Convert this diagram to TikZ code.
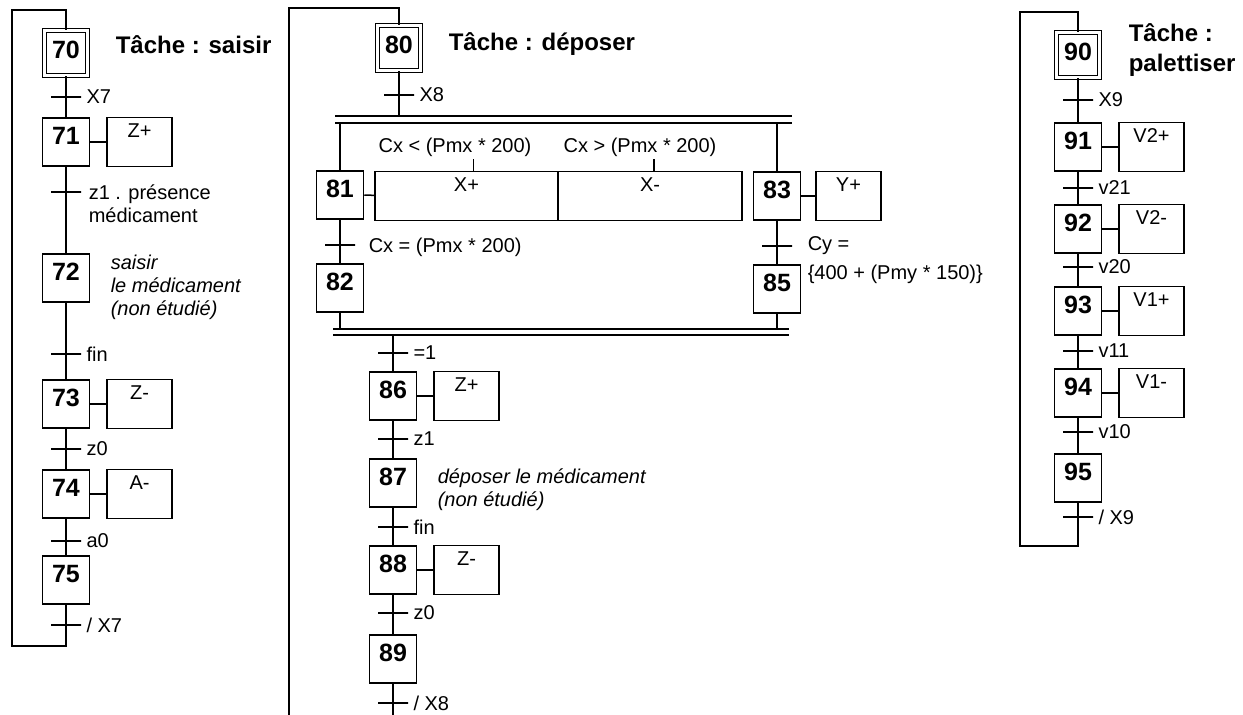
\documentclass[tikz,border=0pt]{standalone}
\usepackage{fontspec}
\setmainfont{Liberation Sans}
\usetikzlibrary{positioning}

\tikzset{
  etape/.style={draw, minimum width=47pt, minimum height=48pt, inner sep=0pt,
    font=\fontsize{25}{25}\selectfont\bfseries, text height=18pt, text depth=14pt},
  etapeinit/.style={etape, double, double distance=2.5pt, minimum width=43pt,
    minimum height=45pt, text depth=7pt},
  action/.style={draw, minimum width=65pt, minimum height=49pt, inner sep=0pt,
    font=\fontsize{20}{20}\selectfont, text height=14pt, text depth=24pt},
  trans/.style={draw, minimum width=30pt, minimum height=0pt, inner sep=0pt},
  recept/.style={font=\fontsize{20}{23}\selectfont, align=left, anchor=base west, inner sep=0pt},
  comment/.style={recept, font=\fontsize{20}{23}\selectfont\itshape},
  titre/.style={font=\fontsize{24}{30}\selectfont\bfseries, align=left, anchor=west, inner sep=0pt},
  every label/.style={font=\fontsize{20}{20}\selectfont, inner sep=0pt},
  label distance=4pt
}

\begin{document}
\begin{tikzpicture}[x=1pt, y=-1pt, line width=1.5pt]
    \useasboundingbox (0,0) rectangle (1243,715);

    % Tache : saisir
    \node[etapeinit] (e70) at (66,53) {70};
    \node[titre] at (115,45) {Tâche : saisir};
    \node[trans, label=right:X7] (t70) at (66,97) {};
    \node[etape] (e71) at (66,142) {71};
    \node[action, right=16pt of e71] (a71) {Z+};
    \node[trans] (t71) at (66,192) {};
    \node[recept] at (88,222) {z1 . présence\\médicament};
    \node[etape] (e72) at (66,278) {72};
    \node[comment] at (110,315) {saisir\\le médicament\\(non étudié)};
    \node[trans, label=right:fin] (t72) at (66,354) {};
    \node[etape] (e73) at (66,404) {73};
    \node[action, right=16pt of e73] (a73) {Z-};
    \node[trans, label=right:z0] (t73) at (66,449) {};
    \node[etape] (e74) at (66,494) {74};
    \node[action, right=16pt of e74] (a74) {A-};
    \node[trans, label=right:a0] (t74) at (66,541) {};
    \node[etape] (e75) at (66,580) {75};
    \node[trans, label=right:/ X7] (t75) at (66,625) {};
    \coordinate (bg) at (12,646);
    \coordinate (hg) at (12,10);

    \draw (e70) -- (t70) -- (e71) -- (t71) -- (e72) -- (t72) -- (e73) -- (t73)
          -- (e74) -- (t74) -- (e75) -- (t75);
    \draw (t75) |- (bg) -- (hg) -| (e70);
    \draw (e71) -- (a71);
    \draw (e73) -- (a73);
    \draw (e74) -- (a74);

    % Tache : deposer
    \node[etapeinit] (e80) at (399,48) {80};
    \node[titre] at (448,44) {Tâche : déposer};
    \node[trans, label=right:X8] (t80) at (399,95) {};
    \coordinate (ddh) at (335,116);
    \coordinate (ddb) at (335,123);
    \draw (ddh) -- ++(457,0);
    \draw (ddb) -- ++(457,0);

    \node[etape] (e81) at (340,195) {81};
    \node[action, minimum width=183pt] (a81p) at (466.5,196) {X+};
    \node[action, minimum width=184pt] (a81m) at (650,196) {X-};
    \node[recept, anchor=base] (c81p) at (455,152) {Cx < (Pmx * 200)};
    \node[recept, anchor=base] (c81m) at (640,152) {Cx > (Pmx * 200)};
    \node[etape] (e83) at (777,196) {83};
    \node[action, right=14pt of e83] (a83) {Y+};
    \node[trans] (t81) at (340,245) {};
    \node[recept] at (368,252) {Cx = (Pmx * 200)};
    \node[trans] (t83) at (777,246) {};
    \node[recept, font=\fontsize{20}{29}\selectfont] at (807,279) {Cy =\\\{400 + (Pmy * 150)\}};
    \node[etape] (e82) at (340,288) {82};
    \node[etape] (e85) at (777,289) {85};
    \coordinate (dfh) at (333,329);
    \coordinate (dfb) at (333,335);
    \draw (dfh) -- ++(456,0);
    \draw (dfb) -- ++(456,0);

    \draw (e80) -- (t80) -- (t80 |- ddh);
    \draw (e81 |- ddb) -- (e81) -- (t81) -- (e82) -- (e82 |- dfh);
    \draw (e83 |- ddb) -- (e83) -- (t83) -- (e85) -- (e85 |- dfh);
    \draw (e81) -- (a81p);
    \draw (e83) -- (a83);
    \draw ([xshift=7pt]a81p.north) -- ++(0,-12);
    \draw ([xshift=4pt]a81m.north) -- ++(0,-12);

    \node[trans, label={right:{=1}}] (tj) at (393,353) {};
    \node[etape] (e86) at (393,396) {86};
    \node[action, right=16pt of e86] (a86) {Z+};
    \node[trans, label=right:z1] (t86) at (393,439) {};
    \node[etape] (e87) at (393,483) {87};
    \node[comment] at (437,506) {déposer le médicament\\(non étudié)};
    \node[trans, label=right:fin] (t87) at (393,527) {};
    \node[etape] (e88) at (393,570) {88};
    \node[action, right=16pt of e88] (a88) {Z-};
    \node[trans, label=right:z0] (t88) at (393,613) {};
    \node[etape] (e89) at (393,659) {89};
    \node[trans, label=right:/ X8] (t89) at (393,703) {};
    \coordinate (bm) at (289,715);
    \coordinate (hm) at (289,8);

    \draw (e86 |- dfb) -- (tj) -- (e86) -- (t86) -- (e87) -- (t87) -- (e88)
          -- (t88) -- (e89) -- (t89) -- (t89 |- bm);
    \draw (bm) -- (hm) -| (e80);
    \draw (e86) -- (a86);
    \draw (e88) -- (a88);

    % Tache : palettiser
    \node[etapeinit] (e90) at (1078,55) {90};
    \node[titre] at (1128,50) {Tâche :\\palettiser};
    \node[trans, label=right:X9] (t90) at (1078,100) {};
    \node[etape] (e91) at (1078,147) {91};
    \node[action, right=16pt of e91] (a91) {V2+};
    \node[trans, label=right:v21] (t91) at (1078,188) {};
    \node[etape] (e92) at (1078,229) {92};
    \node[action, right=16pt of e92] (a92) {V2-};
    \node[trans, label=right:v20] (t92) at (1078,267) {};
    \node[etape] (e93) at (1078,311) {93};
    \node[action, right=16pt of e93] (a93) {V1+};
    \node[trans, label=right:v11] (t93) at (1078,351) {};
    \node[etape] (e94) at (1078,393) {94};
    \node[action, right=16pt of e94] (a94) {V1-};
    \node[trans, label=right:v10] (t94) at (1078,432) {};
    \node[etape] (e95) at (1078,478) {95};
    \node[trans, label=right:/ X9] (t95) at (1078,517) {};
    \coordinate (bd) at (1020,546);
    \coordinate (hd) at (1020,12);

    \draw (e90) -- (t90) -- (e91) -- (t91) -- (e92) -- (t92) -- (e93) -- (t93)
          -- (e94) -- (t94) -- (e95) -- (t95);
    \draw (t95) |- (bd) -- (hd) -| (e90);
    \draw (e91) -- (a91);
    \draw (e92) -- (a92);
    \draw (e93) -- (a93);
    \draw (e94) -- (a94);
\end{tikzpicture}
\end{document}
